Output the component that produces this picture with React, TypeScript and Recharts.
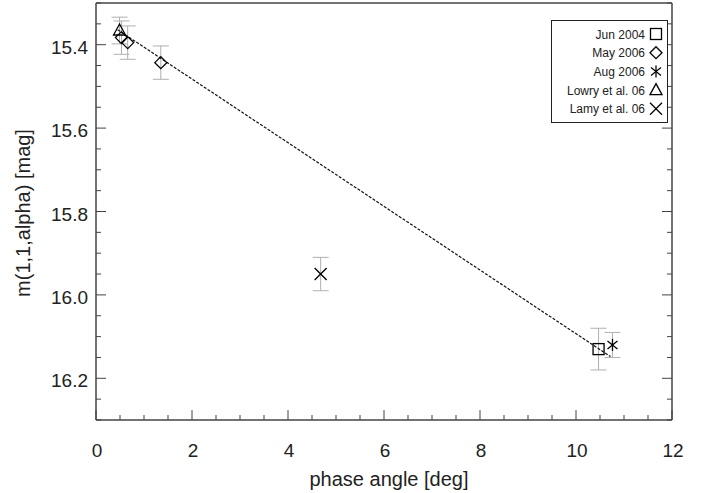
import React from 'react';
import { ScatterChart, Scatter, XAxis, YAxis, ErrorBar } from 'recharts';

// ---- data ----
const jun2004 = [{ x: 10.47, y: 16.13, err: 0.05 }];
const may2006 = [
  { x: 0.53, y: 15.383, err: 0.04 },
  { x: 0.66, y: 15.395, err: 0.04 },
  { x: 1.35, y: 15.443, err: 0.04 },
];
const aug2006 = [{ x: 10.76, y: 16.12, err: 0.03 }];
const lowry06 = [{ x: 0.49, y: 15.366, err: 0.032 }];
const lamy06 = [{ x: 4.68, y: 15.95, err: 0.04 }];
const fitLine = [
  { x: 0.45, y: 15.364 },
  { x: 10.72, y: 16.148 },
];

const xMajorTicks = [0, 2, 4, 6, 8, 10, 12];
const xTickLabels = ['0', '2', '4', '6', '8', '10', '12'];
const yMajorTicks = [15.4, 15.6, 15.8, 16.0, 16.2];
const yTickLabels = ['15.4', '15.6', '15.8', '16.0', '16.2'];
const legendLabels = ['Jun 2004', 'May 2006', 'Aug 2006', 'Lowry et al. 06', 'Lamy et al. 06'];

const xMinorTicks: number[] = [];
for (let i = 0; i <= 24; i++) xMinorTicks.push(i * 0.5);
const yMinorTicks: number[] = [];
for (let i = 0; i <= 20; i++) yMinorTicks.push(Math.round((15.3 + i * 0.05) * 1000) / 1000);

const AXIS = '#444';
const TXT = '#222';
const FONT = '"Liberation Sans", Arial, sans-serif';
const MAJ = 10;
const MIN = 5;
const TICKFS = 19;

const majorIndex = (v: number, majors: number[]) => majors.findIndex((m) => Math.abs(m - v) < 1e-6);

const BottomTick = (p: any) => {
  const idx = majorIndex(p.payload.value, xMajorTicks);
  const len = idx >= 0 ? MAJ : MIN;
  return (
    <g>
      <line x1={p.x} y1={p.y} x2={p.x} y2={p.y - len} stroke={AXIS} strokeWidth={1} />
      {idx >= 0 && (
        <text x={p.x + 1} y={p.y + 37} textAnchor="middle" fontSize={TICKFS} fill={TXT} fontFamily={FONT}>
          {xTickLabels[idx]}
        </text>
      )}
    </g>
  );
};
const TopTick = (p: any) => {
  const idx = majorIndex(p.payload.value, xMajorTicks);
  const len = idx >= 0 ? MAJ : MIN;
  return <line x1={p.x} y1={p.y} x2={p.x} y2={p.y + len} stroke={AXIS} strokeWidth={1} />;
};
const LeftTick = (p: any) => {
  const idx = majorIndex(p.payload.value, yMajorTicks);
  const len = idx >= 0 ? MAJ : MIN;
  return (
    <g>
      <line x1={p.x} y1={p.y} x2={p.x + len} y2={p.y} stroke={AXIS} strokeWidth={1} />
      {idx >= 0 && (
        <text x={p.x - 8} y={p.y + 9} textAnchor="end" fontSize={TICKFS} fill={TXT} fontFamily={FONT}>
          {yTickLabels[idx]}
        </text>
      )}
    </g>
  );
};
const RightTick = (p: any) => {
  const idx = majorIndex(p.payload.value, yMajorTicks);
  const len = idx >= 0 ? MAJ : MIN;
  return <line x1={p.x} y1={p.y} x2={p.x - len} y2={p.y} stroke={AXIS} strokeWidth={1} />;
};

// ---- marker shapes ----
const SW = 1.3;
const Square = ({ cx, cy }: any) => (
  <rect x={cx - 5.5} y={cy - 5.5} width={11} height={11} fill="none" stroke="#000" strokeWidth={SW} />
);
const Diamond = ({ cx, cy }: any) => (
  <path d={`M${cx},${cy - 6}L${cx + 6},${cy}L${cx},${cy + 6}L${cx - 6},${cy}Z`} fill="none" stroke="#000" strokeWidth={SW} />
);
const Asterisk = ({ cx, cy }: any) => (
  <g stroke="#000" strokeWidth={SW}>
    <line x1={cx} y1={cy - 6} x2={cx} y2={cy + 6} />
    <line x1={cx - 5} y1={cy - 4} x2={cx + 5} y2={cy + 4} />
    <line x1={cx - 5} y1={cy + 4} x2={cx + 5} y2={cy - 4} />
  </g>
);
const Triangle = ({ cx, cy }: any) => (
  <path d={`M${cx},${cy - 6.5}L${cx + 6},${cy + 4.5}L${cx - 6},${cy + 4.5}Z`} fill="none" stroke="#000" strokeWidth={SW} />
);
const Cross = ({ cx, cy }: any) => (
  <g stroke="#000" strokeWidth={SW}>
    <line x1={cx - 6} y1={cy - 6} x2={cx + 6} y2={cy + 6} />
    <line x1={cx - 6} y1={cy + 6} x2={cx + 6} y2={cy - 6} />
  </g>
);
const NoShape = () => <g />;

const legendShapes = [Square, Diamond, Asterisk, Triangle, Cross];

const XLabel = (p: any) => {
  const vb = p.viewBox || {};
  return (
    <text x={vb.x + vb.width / 2 + 5} y={486} textAnchor="middle" fontSize={20} fill={TXT} fontFamily={FONT}>
      phase angle [deg]
    </text>
  );
};
const YLabel = () => {
  const cx = 30;
  const cy = 213;
  return (
    <text
      x={cx}
      y={cy}
      transform={`rotate(-90 ${cx} ${cy})`}
      textAnchor="middle"
      fontSize={20}
      fill={TXT}
      fontFamily={FONT}
    >
      m(1,1,alpha) [mag]
    </text>
  );
};

const ebProps = { dataKey: 'err', direction: 'y' as const, width: 8, stroke: '#b0b0b0', strokeWidth: 1 };

export default function App() {
  return (
    <div style={{ position: 'absolute', left: 0, top: 0, width: 719, height: 493, background: '#fff' }}>
      <ScatterChart width={719} height={493} margin={{ top: 2, right: 46, bottom: 43, left: 36 }}>
        <XAxis
          xAxisId="b"
          dataKey="x"
          type="number"
          domain={[0, 12]}
          ticks={xMinorTicks}
          interval={0}
          height={30}
          tickSize={0}
          tickMargin={0}
          tickLine={false}
          tick={<BottomTick />}
          axisLine={{ stroke: AXIS, strokeWidth: 1.5 }}
          allowDataOverflow
          label={<XLabel />}
        />
        <XAxis
          xAxisId="t"
          orientation="top"
          type="number"
          domain={[0, 12]}
          ticks={xMinorTicks}
          interval={0}
          height={1}
          tickSize={0}
          tickMargin={0}
          tickLine={false}
          tick={<TopTick />}
          axisLine={{ stroke: AXIS, strokeWidth: 1.5 }}
          allowDataOverflow
        />
        <YAxis
          yAxisId="l"
          dataKey="y"
          type="number"
          domain={[15.3, 16.3]}
          reversed
          ticks={yMinorTicks}
          interval={0}
          width={60}
          tickSize={0}
          tickMargin={0}
          tickLine={false}
          tick={<LeftTick />}
          axisLine={{ stroke: AXIS, strokeWidth: 1.5 }}
          allowDataOverflow
          label={<YLabel />}
        />
        <YAxis
          yAxisId="r"
          orientation="right"
          type="number"
          domain={[15.3, 16.3]}
          reversed
          ticks={yMinorTicks}
          interval={0}
          width={1}
          tickSize={0}
          tickMargin={0}
          tickLine={false}
          tick={<RightTick />}
          axisLine={{ stroke: AXIS, strokeWidth: 1.5 }}
          allowDataOverflow
        />
        <Scatter
          xAxisId="b"
          yAxisId="l"
          data={fitLine}
          line={{ stroke: '#111', strokeWidth: 1.2, strokeDasharray: '3 1.5' }}
          shape={<NoShape />}
          isAnimationActive={false}
        />
        <Scatter xAxisId="b" yAxisId="l" data={jun2004} shape={<Square />} isAnimationActive={false}>
          <ErrorBar {...ebProps} />
        </Scatter>
        <Scatter xAxisId="b" yAxisId="l" data={may2006} shape={<Diamond />} isAnimationActive={false}>
          <ErrorBar {...ebProps} />
        </Scatter>
        <Scatter xAxisId="b" yAxisId="l" data={aug2006} shape={<Asterisk />} isAnimationActive={false}>
          <ErrorBar {...ebProps} />
        </Scatter>
        <Scatter xAxisId="b" yAxisId="l" data={lowry06} shape={<Triangle />} isAnimationActive={false}>
          <ErrorBar {...ebProps} />
        </Scatter>
        <Scatter xAxisId="b" yAxisId="l" data={lamy06} shape={<Cross />} isAnimationActive={false}>
          <ErrorBar {...ebProps} />
        </Scatter>
      </ScatterChart>
      <svg
        width={120}
        height={106}
        style={{ position: 'absolute', left: 551, top: 20, overflow: 'visible' }}
      >
        <rect x={0.5} y={0.5} width={116} height={102} fill="#fff" stroke="#222" strokeWidth={1} />
        {legendLabels.map((lab, i) => {
          const Sh = legendShapes[i];
          const cy = 14 + i * 18.7;
          return (
            <g key={lab}>
              <text x={94} y={cy + 4.5} textAnchor="end" fontSize={12} fill={TXT} fontFamily={FONT}>
                {lab}
              </text>
              <Sh cx={105} cy={cy} />
            </g>
          );
        })}
      </svg>
    </div>
  );
}
